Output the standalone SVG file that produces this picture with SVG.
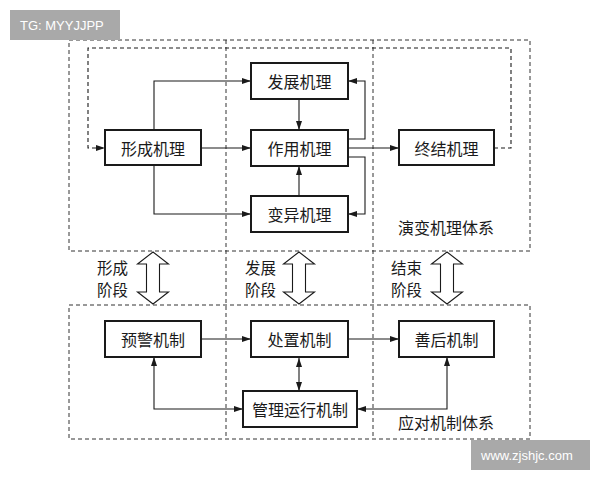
<svg xmlns="http://www.w3.org/2000/svg" width="600" height="480" viewBox="0 0 600 480">
<style>
.node rect{fill:#fff;stroke:#1a1a1a;stroke-width:2}
text{font-family:"Noto Sans CJK SC","Noto Sans",sans-serif;fill:#1a1a1a}
.nt{font-size:16px;text-anchor:middle;dominant-baseline:central}
.lb{font-size:16px}
.st{font-size:15.5px}
.dash{fill:none;stroke:#333;stroke-width:1;stroke-dasharray:4 3}
.con path{fill:none;stroke:#1a1a1a;stroke-width:1.1}
.arr{marker-end:url(#ah)}
.bi{marker-start:url(#ah);marker-end:url(#ah)}
.blk{fill:#fff;stroke:#1a1a1a;stroke-width:1.1}
.wm{fill:#a9a9a9}
.wt{font-family:"Liberation Sans",Arial,sans-serif;font-size:13px;fill:#fff}
</style>
<defs>
<marker id="ah" markerUnits="userSpaceOnUse" markerWidth="10" markerHeight="6" refX="9" refY="3" orient="auto-start-reverse">
<path d="M0,0 L9,3 L0,6 Z" fill="#1a1a1a"/>
</marker>
</defs>
<rect width="600" height="480" fill="#fff"/>
<g id="frames">
<rect class="dash" x="69" y="40" width="461" height="211"/>
<rect class="dash" x="69" y="305" width="461" height="134"/>
<path class="dash" d="M226,40 V439 M373,40 V439"/>
</g>
<g id="stage-arrows">
<path class="blk" d="M153,252 L168.5,264 L159.5,264 L159.5,292 L168.5,292 L153,304 L137.5,292 L146.5,292 L146.5,264 L137.5,264 Z"/>
<path class="blk" d="M299,252 L314.5,264 L305.5,264 L305.5,292 L314.5,292 L299,304 L283.5,292 L292.5,292 L292.5,264 L283.5,264 Z"/>
<path class="blk" d="M447,252 L462.5,264 L453.5,264 L453.5,292 L462.5,292 L447,304 L431.5,292 L440.5,292 L440.5,264 L431.5,264 Z"/>
</g>
<g id="connectors" class="con">
<path class="arr" d="M154,130 V81 H251"/>
<path class="arr" d="M201,148 H251"/>
<path class="arr" d="M154,165 V214 H251"/>
<path class="arr" d="M299,99 V130"/>
<path class="arr" d="M299,196 V166"/>
<path class="arr" d="M348,139 H365 V81 H348"/>
<path class="arr" d="M348,157 H365 V214 H348"/>
<path class="arr" d="M348,148 H399"/>
<path class="arr" d="M494,148 H511 V48 H88 V148 H105" style="stroke-dasharray:4 3"/>
<path class="arr" d="M201,339 H251"/>
<path class="arr" d="M348,339 H399"/>
<path class="bi" d="M299,358 V391"/>
<path class="bi" d="M243,409 H154 V357"/>
<path class="bi" d="M357,409 H447 V357"/>
</g>
<g id="n-xingcheng" class="node"><rect x="105" y="130" width="96" height="35"/><text class="nt" x="153" y="147.5">形成机理</text></g>
<g id="n-fazhan" class="node"><rect x="251" y="63" width="97" height="36"/><text class="nt" x="299.5" y="81">发展机理</text></g>
<g id="n-zuoyong" class="node"><rect x="251" y="130" width="97" height="36"/><text class="nt" x="299.5" y="148">作用机理</text></g>
<g id="n-bianyi" class="node"><rect x="251" y="196" width="97" height="36"/><text class="nt" x="299.5" y="214">变异机理</text></g>
<g id="n-zhongjie" class="node"><rect x="399" y="130" width="95" height="35"/><text class="nt" x="446.5" y="147.5">终结机理</text></g>
<g id="n-yujing" class="node"><rect x="105" y="321" width="96" height="36"/><text class="nt" x="153" y="339">预警机制</text></g>
<g id="n-chuzhi" class="node"><rect x="251" y="321" width="97" height="36"/><text class="nt" x="299.5" y="339">处置机制</text></g>
<g id="n-shanhou" class="node"><rect x="399" y="321" width="95" height="36"/><text class="nt" x="446.5" y="339">善后机制</text></g>
<g id="n-guanli" class="node"><rect x="243" y="391" width="114" height="36"/><text class="nt" x="300" y="409">管理运行机制</text></g>
<g id="labels">
<text class="st" x="97" y="274">形成</text>
<text class="st" x="97" y="296">阶段</text>
<text class="st" x="245" y="274">发展</text>
<text class="st" x="245" y="296">阶段</text>
<text class="st" x="391" y="274">结束</text>
<text class="st" x="391" y="296">阶段</text>
<text class="lb" x="398" y="234">演变机理体系</text>
<text class="lb" x="398" y="429">应对机制体系</text>
</g>
<g id="watermarks">
<rect class="wm" x="10" y="10" width="110" height="30"/>
<text class="wt" x="20" y="30">TG: MYYJJPP</text>
<rect class="wm" x="471" y="440" width="119" height="30"/>
<text class="wt" x="481" y="460">www.zjshjc.com</text>
</g>
</svg>
